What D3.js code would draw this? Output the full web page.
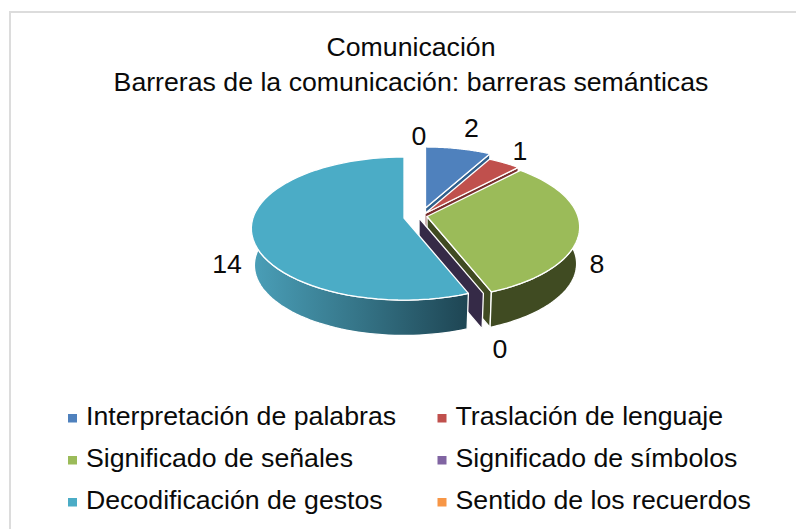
<!DOCTYPE html>
<html><head><meta charset="utf-8">
<script src="https://cdn.jsdelivr.net/npm/d3@7"></script>
<style>html,body{margin:0;padding:0;background:#fff}svg{display:block}text{font-family:"Liberation Sans",Arial,sans-serif;fill:#0a0a0a}</style>
</head><body><svg id="c" width="796" height="529"></svg>
<script>
const titleLines = ["Comunicación", "Barreras de la comunicación: barreras semánticas"];
const categories = ["Interpretación de palabras", "Traslación de lenguaje", "Significado de señales", "Significado de símbolos", "Decodificación de gestos", "Sentido de los recuerdos"];
const values = [2, 1, 8, 0, 14, 0];
const topColors = ["#4f81bd", "#c0504d", "#9bbb59", "#8064a2", "#4bacc6", "#f79646"];
const wallColors = ["#2f5f8c", "#7a2f2d", "#404b22", "#352a47", "url(#decodWall)", "#a0601f"];
// exploded apex of each slice, in pixels
const apexX = [425.5, 425, 427, 419, 404, 405];
const apexY = [208, 213.5, 216.5, 218, 218, 218];
const labelX = [471.5, 520, 597, 500, 227, 419];
const labelY = [137, 160, 273, 358, 273, 145];

const FS = 26.7, R = 151, H = 70, K = 0.147, DEPTH = 37, SHRINK = 0.98;
const svg = d3.select("#c");
const defs = svg.append("defs");
const grad = defs.append("linearGradient").attr("id", "decodWall").attr("gradientUnits", "userSpaceOnUse")
  .attr("x1", 252).attr("x2", 468).attr("y1", 0).attr("y2", 0);
grad.append("stop").attr("offset", 0).attr("stop-color", "#4a9fb8");
grad.append("stop").attr("offset", 0.5).attr("stop-color", "#357487");
grad.append("stop").attr("offset", 1).attr("stop-color", "#1e4553");

// frame
svg.append("path").attr("d", "M10,529V12H796").attr("fill", "none").attr("stroke", "#dcdcdc").attr("stroke-width", 2);

titleLines.forEach((t, i) => svg.append("text").attr("x", 411).attr("y", [56, 91][i]).attr("text-anchor", "middle").attr("font-size", FS).text(t));

const pie = d3.pie().sort(null).value(d => d)(values);

// perspective projection of a rim point at angle a (clockwise from the back)
function rim(a) {
  const w = 1 + K * Math.cos(a);
  return [R * Math.sin(a) / w, -H * Math.cos(a) / w];
}
const line = d3.line();
const upper = (i, a) => { const p = rim(a); return [apexX[i] + p[0], apexY[i] + p[1]]; };
const lower = (i, a) => { const p = rim(a); return [apexX[i] + p[0] * SHRINK, apexY[i] + p[1] * SHRINK + DEPTH]; };
const arcAngles = (s, e) => d3.range(0, 61).map(k => s + (e - s) * k / 60);

const visLo = 80 * Math.PI / 180, visHi = 282 * Math.PI / 180;
pie.forEach((d, i) => {
  const g = svg.append("g");
  // end cut face (edge-on when the cut runs straight back)
  const e = d.endAngle;
  if (Math.abs(Math.sin(e)) > 0.01) {
    g.append("path").attr("d", line([[apexX[i], apexY[i]], upper(i, e), lower(i, e), [apexX[i], apexY[i] + DEPTH]]) + "Z")
      .attr("fill", wallColors[i]).attr("stroke", "#fff").attr("stroke-width", 1.3).attr("stroke-linejoin", "round");
  }
  // outer wall
  const lo = Math.max(d.startAngle, visLo), hi = Math.min(d.endAngle, visHi);
  if (hi > lo) {
    const as = arcAngles(lo, hi);
    g.append("path").attr("d", line(as.map(a => upper(i, a)).concat(as.slice().reverse().map(a => lower(i, a)))) + "Z")
      .attr("fill", wallColors[i]).attr("stroke", "#fff").attr("stroke-width", 1.3).attr("stroke-linejoin", "round");
  }
  // top surface
  if (d.value > 0) {
    const as = arcAngles(d.startAngle, d.endAngle);
    g.append("path").attr("d", line([[apexX[i], apexY[i]]].concat(as.map(a => upper(i, a)))) + "Z")
      .attr("fill", topColors[i]).attr("stroke", "#fff").attr("stroke-width", 1.3).attr("stroke-linejoin", "round");
  }
});

values.forEach((v, i) => svg.append("text").attr("x", labelX[i]).attr("y", labelY[i]).attr("text-anchor", "middle").attr("font-size", FS).text(v));

const legendCol = [68, 437.5], legendRow = [425, 467, 509], legendTextDx = 18;
categories.forEach((c, i) => {
  const col = i % 2, row = Math.floor(i / 2);
  svg.append("rect").attr("x", legendCol[col]).attr("y", legendRow[row] - 11).attr("width", 9).attr("height", 8.5).attr("fill", topColors[i]);
  svg.append("text").attr("x", legendCol[col] + legendTextDx).attr("y", legendRow[row]).attr("font-size", FS).text(c);
});
</script></body></html>
